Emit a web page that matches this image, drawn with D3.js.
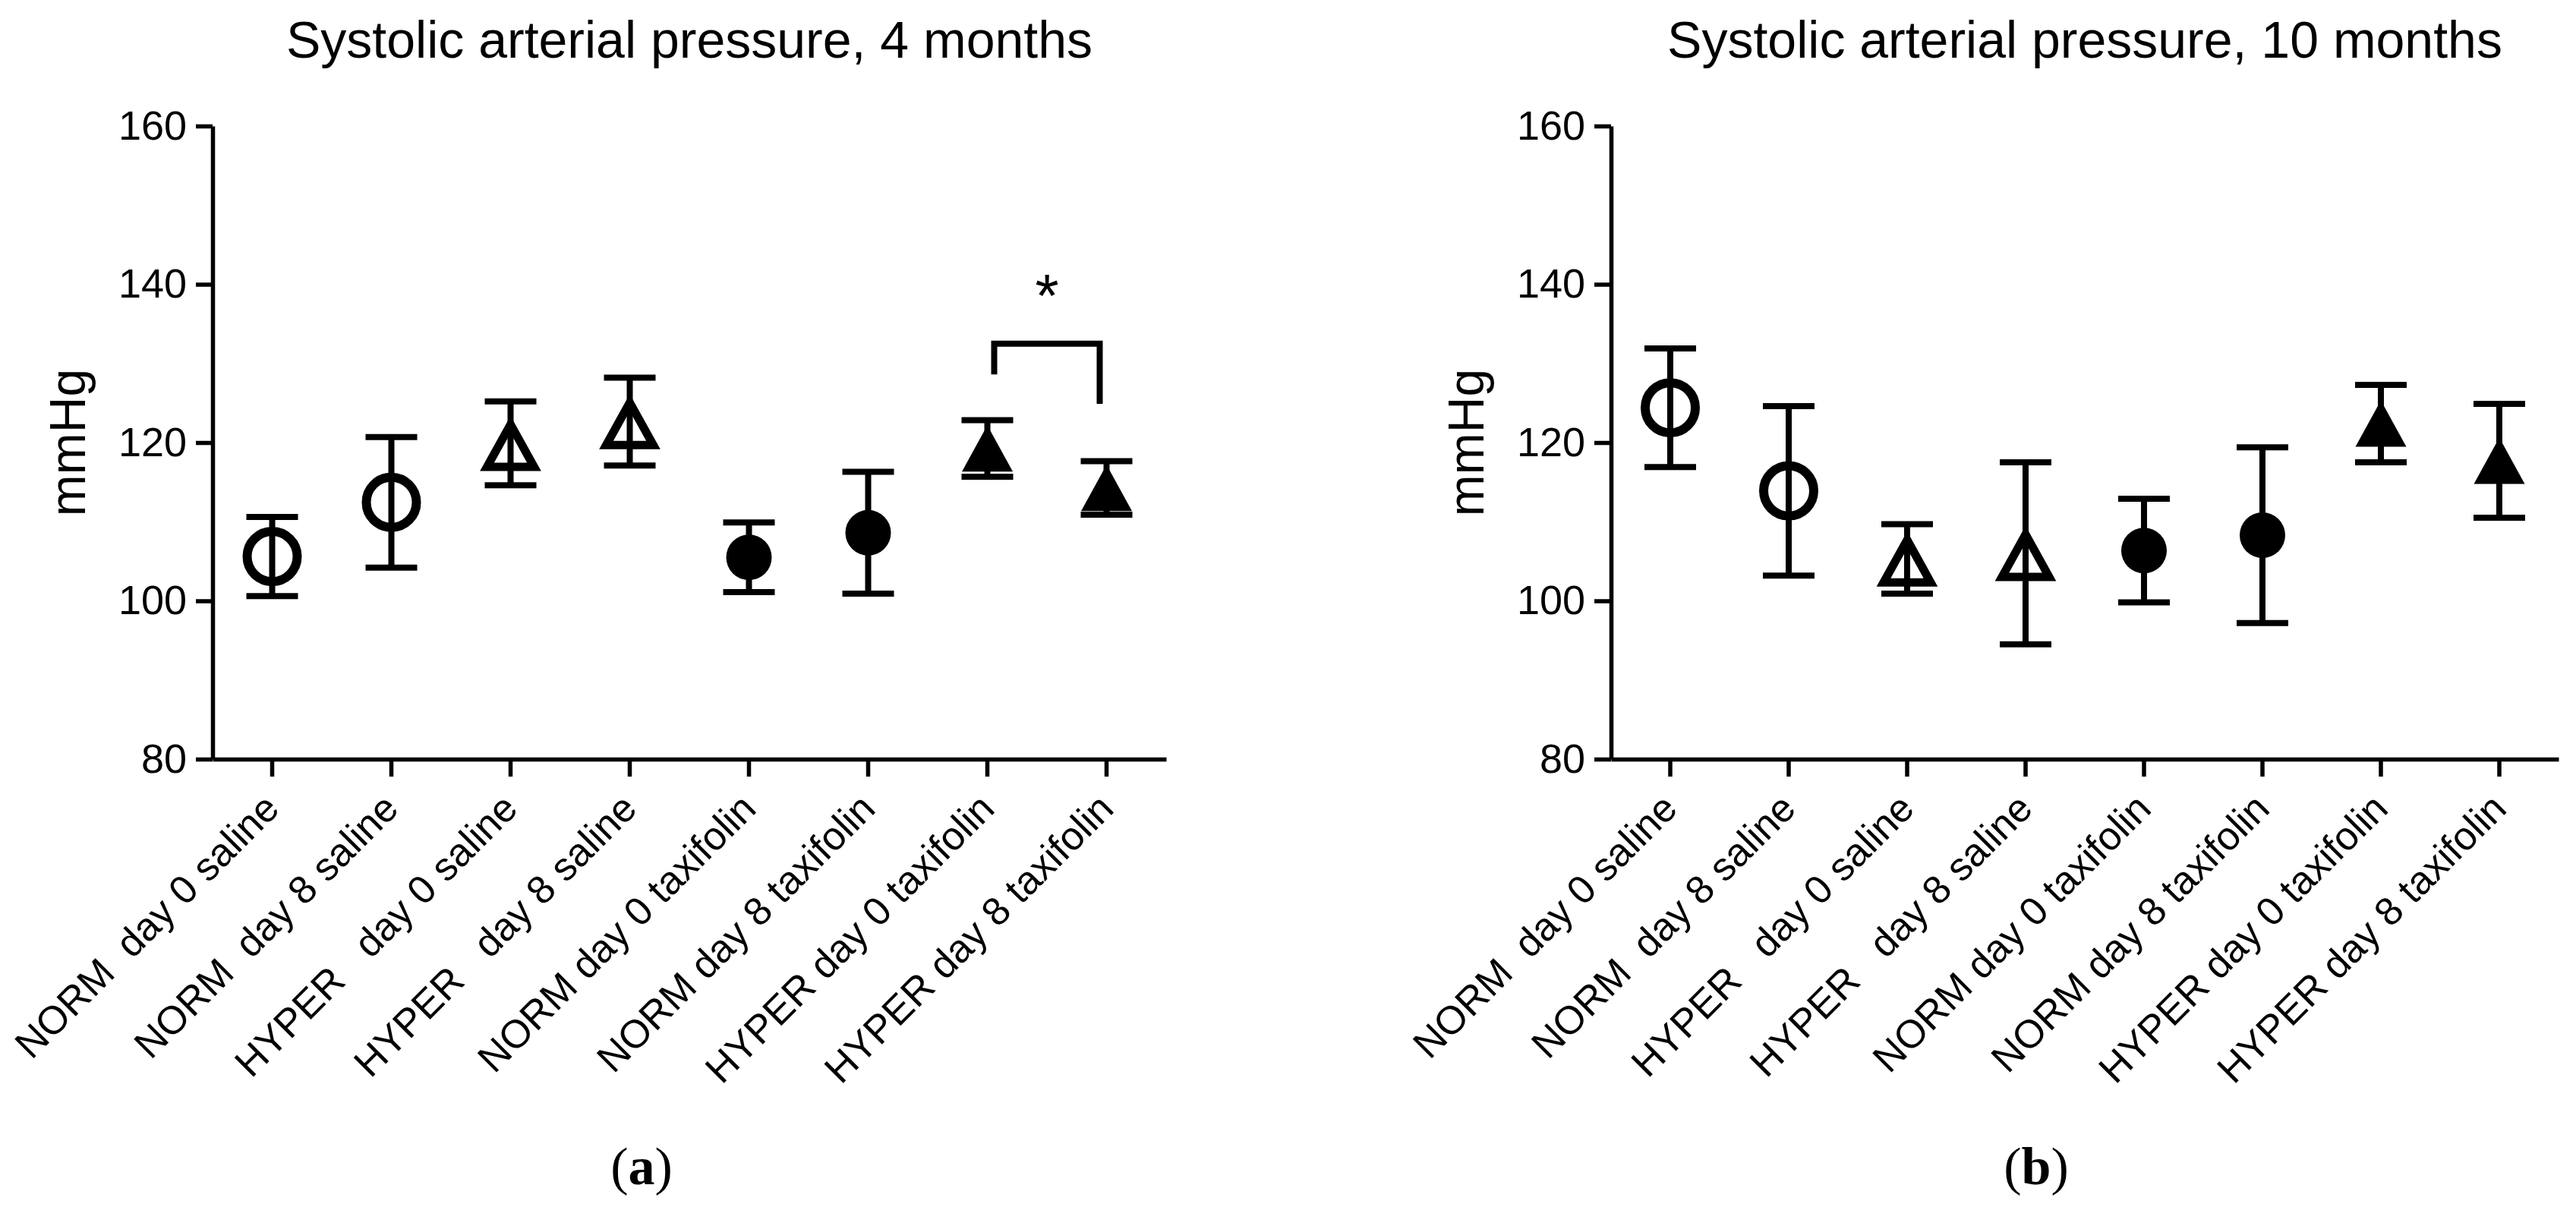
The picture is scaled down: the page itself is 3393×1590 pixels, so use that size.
<!DOCTYPE html>
<html>
<head>
<meta charset="utf-8">
<script src="https://cdn.jsdelivr.net/npm/d3@7"></script>
<style>
body { margin: 0; background: #fff; }
text { font-family: "Liberation Sans", Arial, sans-serif; fill: #000; }
</style>
</head>
<body>
<div id="chart"></div>
<script>
// group names, same order in both panels
var groups = ["NORM  day 0 saline", "NORM  day 8 saline", "HYPER   day 0 saline", "HYPER   day 8 saline",
              "NORM day 0 taxifolin", "NORM day 8 taxifolin", "HYPER day 0 taxifolin", "HYPER day 8 taxifolin"]

// 4 months (mean, sem), mmHg
var mean4 = [105.6, 112.45, 119.9, 122.65, 105.5, 108.6, 119.25, 114.26]
var sem4  = [5.0, 8.25, 5.3, 5.55, 4.4, 7.7, 3.57, 3.38]

// 10 months
var mean10 = [124.4, 113.9, 105.3, 106.0, 106.35, 108.3, 122.4, 117.7]
var sem10  = [7.5, 10.7, 4.4, 11.5, 6.55, 11.1, 4.9, 7.2]

var yTicks = [80, 100, 120, 140, 160]

// significance bracket in panel a: between groups 6 and 7, heights in mmHg
var sigFrom = 6, sigTo = 7
var sigTop = 132.5, sigLeftEnd = 128.6, sigRightEnd = 124.9
var sigLabel = "*"

var W = 3393, H = 1590;

var svg = d3.select("#chart")
  .append("svg")
  .attr("width", W)
  .attr("height", H)

var y = d3.scaleLinear().domain([80, 160]).range([1000, 166])

var panels = [
  {left: 280, right: 1536, title: "Systolic arterial pressure, 4 months", mean: mean4, sem: sem4, letter: "a", letterX: 845, sig: true},
  {left: 2122, right: 3370, title: "Systolic arterial pressure, 10 months", mean: mean10, sem: sem10, letter: "b", letterX: 2682, sig: false}
]

function drawPanel(p) {
  var g = svg.append("g")

  var x = d3.scaleBand().domain(d3.range(groups.length)).range([p.left, p.right]).padding(0)
  function cx(i) { return x(i) + x.bandwidth() / 2; }

  // y axis
  var ya = g.append("g")
    .attr("transform", "translate(" + p.left + ",0)")
    .call(d3.axisLeft(y).tickValues(yTicks).tickSize(22).tickSizeOuter(0).tickPadding(12))
  ya.select(".domain").attr("stroke", "#000").attr("stroke-width", 5.5)
  ya.selectAll(".tick line").attr("stroke", "#000").attr("stroke-width", 5.5)
  ya.selectAll(".tick text").attr("font-size", 54).attr("font-family", "Liberation Sans, Arial, sans-serif")

  // x axis, labels drawn separately (rotated)
  var xa = g.append("g")
    .attr("transform", "translate(0,1000)")
    .call(d3.axisBottom(x).tickSize(23).tickSizeOuter(0).tickFormat(""))
  xa.select(".domain").attr("stroke", "#000").attr("stroke-width", 5.5)
  xa.selectAll(".tick line").attr("stroke", "#000").attr("stroke-width", 5.5)

  g.selectAll("text.xlab")
    .data(groups)
    .enter()
    .append("text")
    .attr("class", "xlab")
    .attr("font-size", 52)
    .attr("text-anchor", "end")
    .style("white-space", "pre")
    .attr("transform", function (d, i) { return "translate(" + (cx(i) + 12) + ",1068) rotate(-45)"; })
    .text(function (d) { return d; })

  // title
  g.append("text")
    .attr("x", (p.left + p.right) / 2)
    .attr("y", 76)
    .attr("text-anchor", "middle")
    .attr("font-size", 68)
    .text(p.title)

  // y label
  g.append("text")
    .attr("transform", "translate(" + (p.left - 168) + "," + ((y(80) + y(160)) / 2) + ") rotate(-90)")
    .attr("text-anchor", "middle")
    .attr("font-size", 66)
    .text("mmHg")

  var data = groups.map(function (d, i) {
    return {name: d, i: i, m: p.mean[i], s: p.sem[i],
            tri: d.indexOf("HYPER") == 0, open: d.indexOf("saline") >= 0}
  })

  // error bars
  var eb = g.selectAll("g.err").data(data).enter().append("g").attr("class", "err")
  eb.append("line")
    .attr("x1", function (d) { return cx(d.i); })
    .attr("x2", function (d) { return cx(d.i); })
    .attr("y1", function (d) { return y(d.m + d.s); })
    .attr("y2", function (d) { return y(d.m - d.s); })
    .attr("stroke", "#000").attr("stroke-width", 8)
  eb.selectAll("line.cap")
    .data(function (d) { return [d.m + d.s, d.m - d.s].map(function (v) { return {i: d.i, v: v}; }); })
    .enter()
    .append("line")
    .attr("class", "cap")
    .attr("x1", function (d) { return cx(d.i) - 34; })
    .attr("x2", function (d) { return cx(d.i) + 34; })
    .attr("y1", function (d) { return y(d.v); })
    .attr("y2", function (d) { return y(d.v); })
    .attr("stroke", "#000").attr("stroke-width", 8)

  // symbols
  g.selectAll("path.sym")
    .data(data)
    .enter()
    .append("path")
    .attr("class", "sym")
    .attr("transform", function (d) { return "translate(" + cx(d.i) + "," + y(d.m) + ")"; })
    .attr("d", function (d) {
      if (d.tri && d.open) return "M0,-25 L31,31 L-31,31 Z";
      if (d.tri) return "M0,-30.5 L33.5,30.5 L-33.5,30.5 Z";
      var r = d.open ? 33 : 30;
      return "M" + (-r) + ",0 A" + r + "," + r + " 0 1,1 " + r + ",0 A" + r + "," + r + " 0 1,1 " + (-r) + ",0 Z";
    })
    .attr("fill", function (d) { return d.open ? "none" : "#000"; })
    .attr("stroke", function (d) { return d.open ? "#000" : "none"; })
    .attr("stroke-width", function (d) { return d.tri ? 11 : 12; })
    .attr("stroke-linejoin", "miter")

  if (p.sig) {
    var x1 = cx(sigFrom) + 9, x2 = cx(sigTo) - 9
    g.append("path")
      .attr("d", "M" + x1 + "," + y(sigLeftEnd) + " L" + x1 + "," + y(sigTop) + " L" + x2 + "," + y(sigTop) + " L" + x2 + "," + y(sigRightEnd))
      .attr("fill", "none").attr("stroke", "#000").attr("stroke-width", 8)
    g.append("text")
      .attr("x", (x1 + x2) / 2)
      .attr("y", y(sigTop) - 36)
      .attr("text-anchor", "middle")
      .attr("font-size", 80)
      .text(sigLabel)
  }

  // panel letter
  var lt = g.append("text")
    .attr("x", p.letterX)
    .attr("y", 1560)
    .attr("text-anchor", "middle")
    .attr("font-size", 70)
    .style("font-family", "Liberation Serif, Times New Roman, serif")
  lt.append("tspan").text("(")
  lt.append("tspan").attr("font-weight", "bold").text(p.letter)
  lt.append("tspan").text(")")
}

panels.forEach(drawPanel)
</script>
</body>
</html>
